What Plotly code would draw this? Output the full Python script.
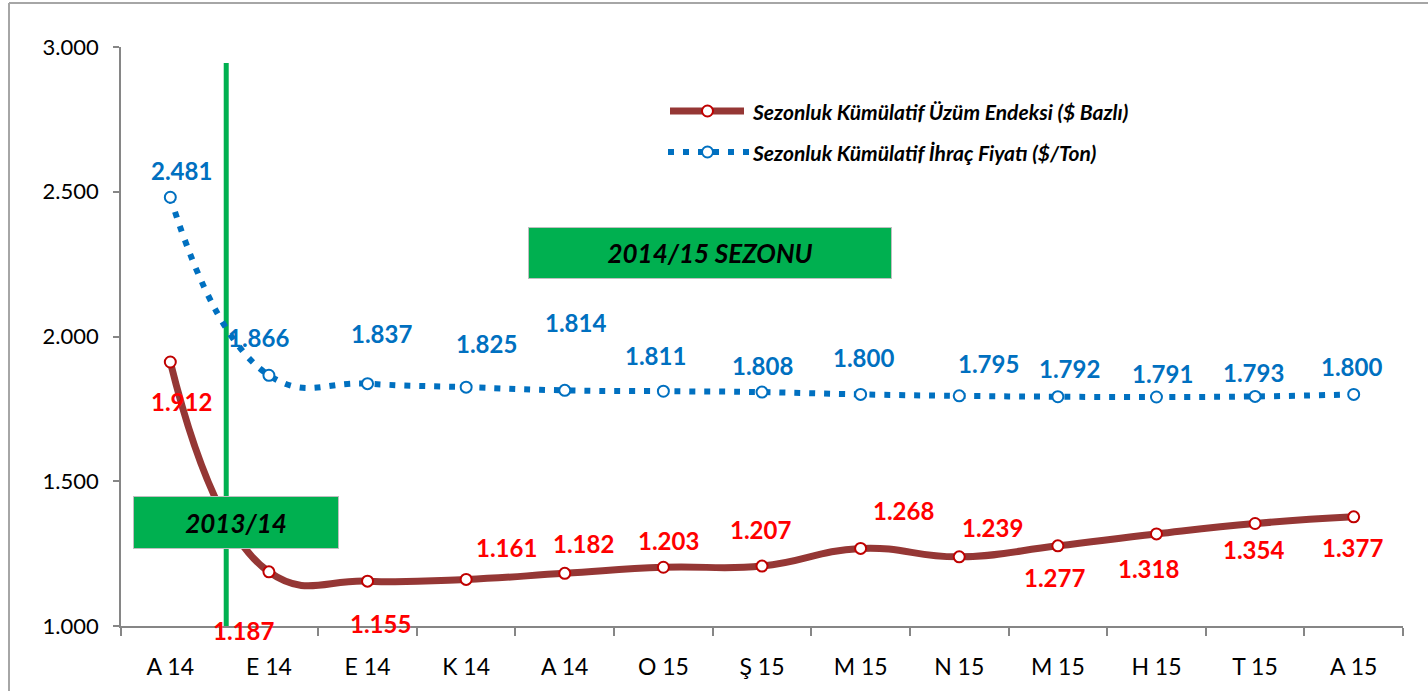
import plotly.graph_objects as go

# ---- data ----
months = ["A 14", "E 14", "E 14", "K 14", "A 14", "O 15", "Ş 15", "M 15", "N 15", "M 15", "H 15", "T 15", "A 15"]
uzum_endeksi = [1912, 1187, 1155, 1161, 1182, 1203, 1207, 1268, 1239, 1277, 1318, 1354, 1377]
ihrac_fiyati = [2481, 1866, 1837, 1825, 1814, 1811, 1808, 1800, 1795, 1792, 1791, 1793, 1800]
y_ticks = [1000, 1500, 2000, 2500, 3000]
name_red = "Sezonluk Kümülatif Üzüm Endeksi ($ Bazlı)"
name_blue = "Sezonluk Kümülatif İhraç Fiyatı ($/Ton)"
season_new = "2014/15 SEZONU"
season_old = "2013/14"

# ---- style ----
FONT = "Lato, Calibri, Carlito, sans-serif"
RED_LINE = "#953735"
RED_MARK = "#C00000"
RED_TXT = "#FF0000"
BLUE = "#0070C0"
GREEN = "#00B050"
GRAY = "#868686"
DOTS = "6px,9px"

# label pixel offsets (dx, dy) relative to each point; dy positive = down
blue_off = [(11, -27), (-10, -38), (14, -50), (20, -44), (11, -68), (-8, -36), (0, -27),
            (3, -37), (29, -32), (12, -28), (6, -24), (-2, -24), (-2, -28)]
red_off = [(11, 40), (-25, 59), (13, 42), (40, -32), (19, -30), (5, -27), (-2, -37),
           (43, -38), (33, -29), (-3, 32), (-8, 35), (-2, 26), (-1, 31)]

W, H = 1428, 691
L, R, T, B = 121, 25, 47, 65
PW, PH = W - L - R, H - T - B


def px(x):
    """pixel x -> paper x"""
    return (x - L) / PW


def py(y):
    """pixel y -> paper y"""
    return (H - B - y) / PH


def fmt(v):
    return f"{v:,}".replace(",", ".")


xs = list(range(len(months)))

fig = go.Figure()
fig.add_trace(go.Scatter(
    x=xs, y=uzum_endeksi, name=name_red, mode="lines+markers",
    line=dict(color=RED_LINE, width=7, shape="spline", smoothing=1.3),
    marker=dict(symbol="circle", size=11, color="white", line=dict(color=RED_MARK, width=2)),
    showlegend=False, cliponaxis=False))
fig.add_trace(go.Scatter(
    x=xs, y=ihrac_fiyati, name=name_blue, mode="lines+markers",
    line=dict(color=BLUE, width=6, dash=DOTS, shape="spline", smoothing=1.3),
    marker=dict(symbol="circle", size=11, color="white", line=dict(color=BLUE, width=2)),
    showlegend=False, cliponaxis=False))

ann = []
for i, v in enumerate(ihrac_fiyati):
    dx, dy = blue_off[i]
    ann.append(dict(x=xs[i], y=v, xref="x", yref="y", text=fmt(v), showarrow=False,
                    xanchor="center", yanchor="middle",
                    xshift=dx, yshift=-dy, font=dict(family=FONT, size=24, color=BLUE, weight="bold")))
for i, v in enumerate(uzum_endeksi):
    dx, dy = red_off[i]
    ann.append(dict(x=xs[i], y=v, xref="x", yref="y", text=fmt(v), showarrow=False,
                    xanchor="center", yanchor="middle",
                    xshift=dx, yshift=-dy, font=dict(family=FONT, size=24, color=RED_TXT, weight="bold")))

# season boxes
ann.append(dict(x=px(710), y=py(253), xref="paper", yref="paper", showarrow=False,
                xanchor="center", yanchor="middle",
                text=f"<b><i>{season_new}</i></b>", width=362, height=50,
                bgcolor=GREEN, bordercolor="#BFBFBF", borderwidth=1, borderpad=0,
                font=dict(family=FONT, size=26, color="black")))
ann.append(dict(x=px(236), y=py(522.5), xref="paper", yref="paper", showarrow=False,
                xanchor="center", yanchor="middle",
                text=f"<b><i>{season_old}</i></b>", width=204, height=51,
                bgcolor=GREEN, bordercolor="#BFBFBF", borderwidth=1, borderpad=0,
                font=dict(family=FONT, size=26, color="black")))

# manual legend texts
ann.append(dict(x=px(750), y=py(111), xref="paper", yref="paper", xanchor="left", yanchor="middle",
                showarrow=False, text=f"<b><i>{name_red}</i></b>",
                font=dict(family=FONT, size=21, color="black")))
ann.append(dict(x=px(750), y=py(152), xref="paper", yref="paper", xanchor="left", yanchor="middle",
                showarrow=False, text=f"<b><i>{name_blue}</i></b>",
                font=dict(family=FONT, size=21, color="black")))

shapes = [
    # frame (left and top edges)
    dict(type="line", xref="paper", yref="paper", x0=px(9), x1=px(9), y0=py(3), y1=py(720),
         line=dict(color="#A6A6A6", width=2)),
    dict(type="line", xref="paper", yref="paper", x0=px(9), x1=px(1440), y0=py(3), y1=py(3),
         line=dict(color="#A6A6A6", width=2)),
    # season divider (behind the series)
    dict(type="line", xref="x", yref="y", x0=0.567, x1=0.567, y0=1000, y1=2945, layer="below",
         line=dict(color=GREEN, width=5)),
    # legend samples
    dict(type="line", xref="paper", yref="paper", x0=px(670), x1=px(744), y0=py(111), y1=py(111),
         line=dict(color=RED_LINE, width=7)),
    dict(type="circle", xref="paper", yref="paper", x0=px(702), x1=px(713), y0=py(116.5), y1=py(105.5),
         fillcolor="white", line=dict(color=RED_MARK, width=2)),
    dict(type="line", xref="paper", yref="paper", x0=px(668), x1=px(750), y0=py(152), y1=py(152),
         line=dict(color=BLUE, width=6, dash=DOTS)),
    dict(type="circle", xref="paper", yref="paper", x0=px(702), x1=px(713), y0=py(157.5), y1=py(146.5),
         fillcolor="white", line=dict(color=BLUE, width=2)),
]

fig.update_layout(
    width=W, height=H, margin=dict(l=L, r=R, t=T, b=B, autoexpand=False),
    paper_bgcolor="white", plot_bgcolor="white",
    separators=",.",
    font=dict(family=FONT, size=18, color="black"),
    showlegend=False,
    annotations=ann, shapes=shapes,
    xaxis=dict(range=[-0.5, len(months) - 0.5], tickmode="array", tickvals=xs, ticktext=months,
               showgrid=False, zeroline=False, showline=True, linecolor=GRAY, linewidth=1.5,
               ticks="", ticklabelstandoff=20, tickfont=dict(family=FONT, size=23, color="black"),
               minor=dict(tickvals=[i - 0.5 for i in range(len(months) + 1)], ticks="outside",
                          ticklen=8, tickcolor=GRAY, tickwidth=1.5, showgrid=False)),
    yaxis=dict(range=[1000, 3000], tickmode="array", tickvals=y_ticks, tickformat=",d",
               showgrid=False, zeroline=False, showline=True, linecolor=GRAY, linewidth=1.5,
               ticks="outside", ticklen=6, tickcolor=GRAY, tickwidth=1.5, ticklabelstandoff=10,
               tickfont=dict(family=FONT, size=22, color="black")),
)

fig.write_html("out.html", config={"displayModeBar": False},
               post_script="document.body.style.margin='0';document.body.style.overflow='hidden';")
